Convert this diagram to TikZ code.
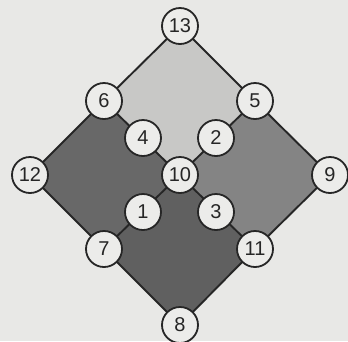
\documentclass[tikz,border=0pt]{standalone}
\usepackage{fontspec}
\setmainfont{Liberation Sans}
\definecolor{bg}{RGB}{232,232,230}
\definecolor{topc}{RGB}{200,200,198}
\definecolor{leftc}{RGB}{104,104,104}
\definecolor{rightc}{RGB}{132,132,132}
\definecolor{botc}{RGB}{96,96,96}
\definecolor{nodec}{RGB}{236,236,234}
\definecolor{linec}{RGB}{38,38,38}
\begin{document}
\begin{tikzpicture}[x=1pt,y=-1pt,
  num/.style={circle,draw=linec,line width=1.8pt,fill=nodec,minimum size=36pt,inner sep=0pt,font=\fontsize{20}{20}\selectfont,text=linec},
  edge/.style={draw=linec,line width=1.9pt}]
\fill[bg] (0,0) rectangle (348,341);
\useasboundingbox (0,0) rectangle (348,341);
\coordinate (c13) at (180,26);
\coordinate (c6) at (104,101);
\coordinate (c5) at (255,101);
\coordinate (c4) at (143,138);
\coordinate (c2) at (216,138);
\coordinate (c12) at (30,175);
\coordinate (c10) at (180,175);
\coordinate (c9) at (330,175);
\coordinate (c1) at (143,212);
\coordinate (c3) at (216,212);
\coordinate (c7) at (104,249);
\coordinate (c11) at (255,249);
\coordinate (c8) at (180,325);
\fill[topc] (c13) -- (c5) -- (c10) -- (c6) -- cycle;
\fill[leftc] (c6) -- (c10) -- (c7) -- (c12) -- cycle;
\fill[rightc] (c5) -- (c9) -- (c11) -- (c10) -- cycle;
\fill[botc] (c10) -- (c11) -- (c8) -- (c7) -- cycle;
\draw[edge] (c13) -- (c5) -- (c9) -- (c11) -- (c8) -- (c7) -- (c12) -- (c6) -- cycle;
\draw[edge] (c6) -- (c11);
\draw[edge] (c5) -- (c7);
\node[num] (n13) at (c13) {13};
\node[num] (n6) at (c6) {6};
\node[num] (n5) at (c5) {5};
\node[num] (n4) at (c4) {4};
\node[num] (n2) at (c2) {2};
\node[num] (n12) at (c12) {12};
\node[num] (n10) at (c10) {10};
\node[num] (n9) at (c9) {9};
\node[num] (n1) at (c1) {1};
\node[num] (n3) at (c3) {3};
\node[num] (n7) at (c7) {7};
\node[num] (n11) at (c11) {11};
\node[num] (n8) at (c8) {8};
\end{tikzpicture}
\end{document}
